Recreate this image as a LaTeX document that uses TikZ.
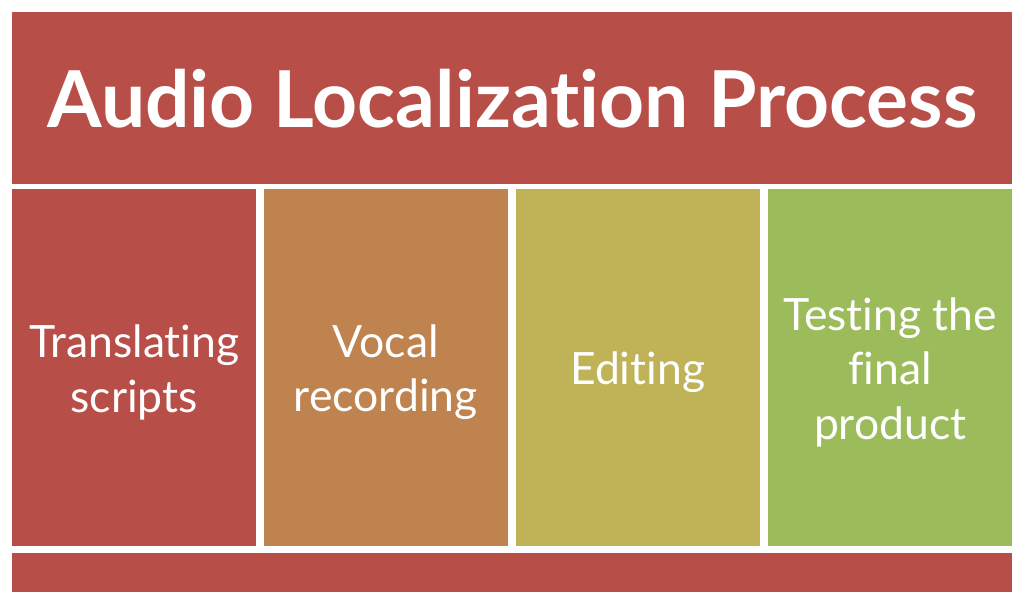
\documentclass[tikz,border=0pt]{standalone}
\usepackage{fontspec}
\setmainfont[Ligatures=NoCommon]{Lato}
\definecolor{brick}{HTML}{B84E48}
\definecolor{clay}{HTML}{BF8350}
\definecolor{mustard}{HTML}{BFB257}
\definecolor{leaf}{HTML}{9CBB5B}
\begin{document}
\begin{tikzpicture}[x=1pt, y=-1pt,
    block/.style={fill=#1, inner sep=0pt, anchor=north west},
    stage/.style={block=#1, minimum width=244pt, minimum height=357pt},
    caption/.style={text=white, inner sep=0pt, align=center,
      font=\fontsize{44.5}{54.5}\selectfont}
  ]

  \useasboundingbox (0, 0) rectangle (1024, 602);
  \node[block=brick, minimum width=1000pt, minimum height=172pt, text=white,
    font=\bfseries\fontsize{78.5}{86}\selectfont] (title) at (12, 12) {Audio Localization Process};
  \foreach \name/\col/\x/\txt in {translate/brick/12/{Translating\\scripts},
      record/clay/263.5/{Vocal\\recording}, edit/mustard/515.5/{Editing},
      test/leaf/768/{Testing the\\final\\product}} {
    \node[stage=\col] (\name) at (\x, 189) {};
    \node[caption] (\name-text) at ([yshift=-4.5pt]\name.center) {\txt};
  }
  \node[block=brick, minimum width=1000pt, minimum height=39pt] (footer) at (12, 553) {};

\end{tikzpicture}
\end{document}
